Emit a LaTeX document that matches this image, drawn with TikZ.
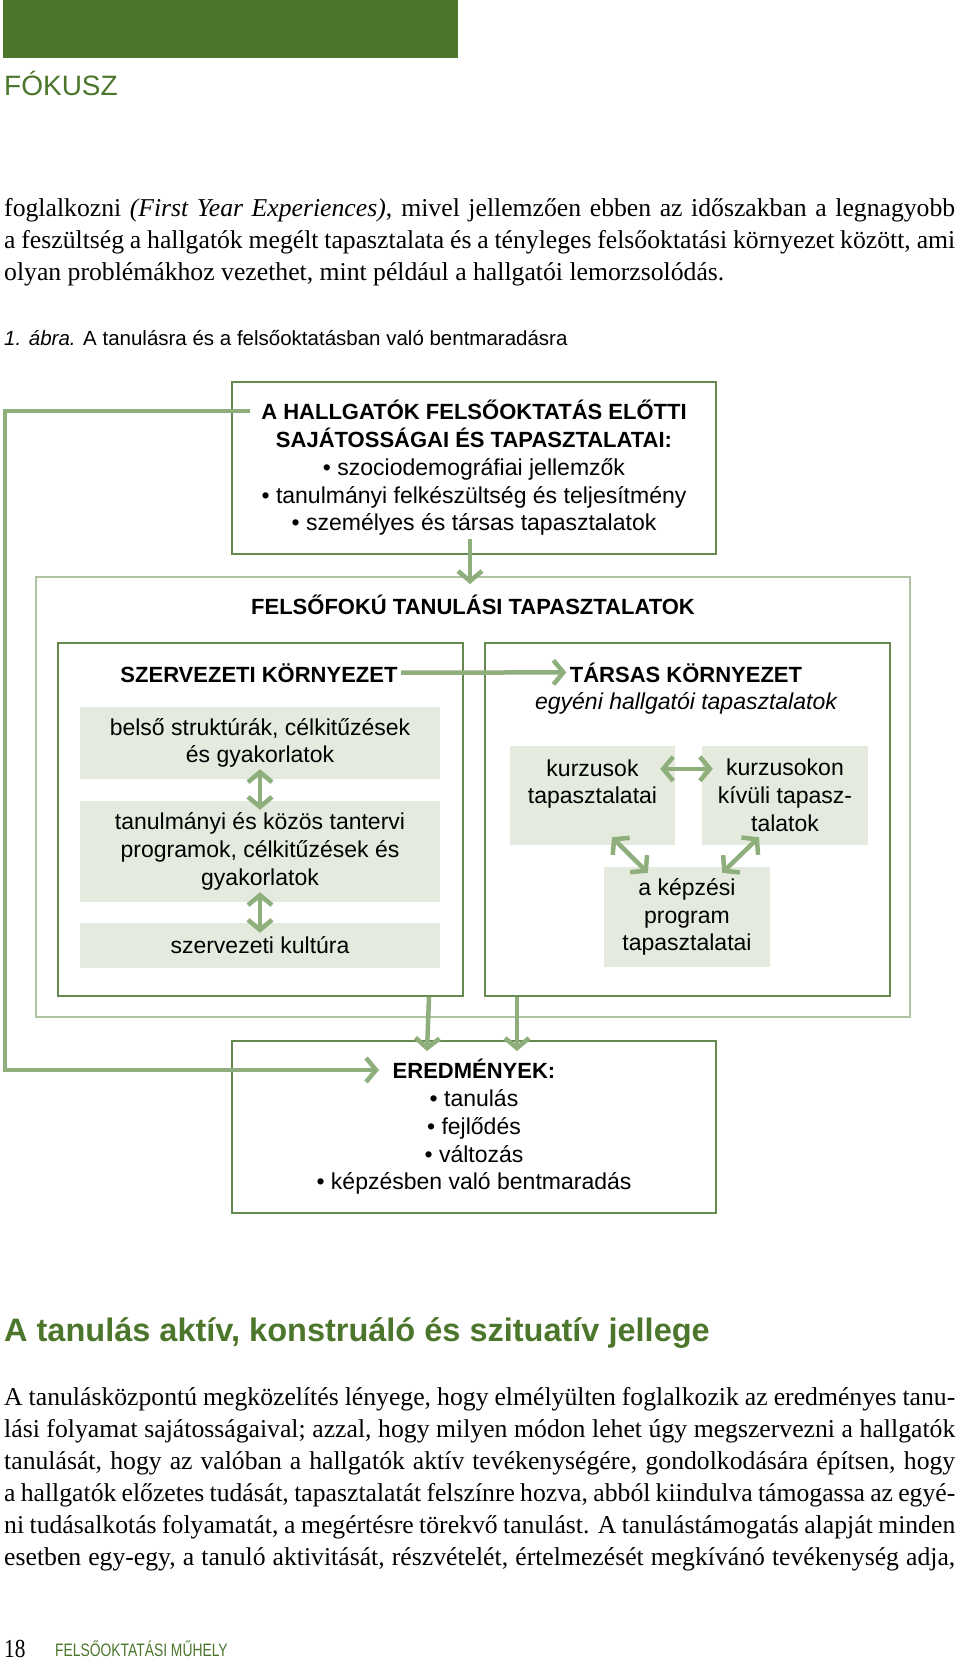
\documentclass[tikz,border=0pt]{standalone}
\usepackage{fontspec}
\setmainfont{Liberation Serif}
\setsansfont{Liberation Sans}
\usetikzlibrary{arrows.meta,calc}
\definecolor{darkgreen}{HTML}{4B762B}
\definecolor{framegreen}{HTML}{66894F}
\definecolor{palegreen}{HTML}{AFC3A2}
\definecolor{arrowgreen}{HTML}{8EAE7C}
\definecolor{boxfill}{HTML}{E4EBDE}
\tikzset{
diagtext/.style={font=\sffamily\fontsize{23}{27.8}\selectfont, align=center},
framebox/.style={draw=framegreen, line width=2pt, diagtext, inner sep=0pt},
bigframe/.style={draw=palegreen, line width=2pt, inner sep=0pt},
greybox/.style={fill=boxfill, diagtext, inner sep=0pt},
boxtitle/.style={font=\sffamily\bfseries\fontsize{22}{27.8}\selectfont},
flow/.style={draw=arrowgreen, line width=4.5pt, -{Straight Barb[length=10pt,width=24pt]}},
twoway/.style={flow, {Straight Barb[length=10pt,width=24pt]}-{Straight Barb[length=10pt,width=24pt]}},
bodytext/.style={font=\fontsize{25.7}{32}\selectfont, align=left, inner sep=0pt}
}
\newcommand{\fullline}[1]{\hbox to 951pt{#1}}
\newcommand{\capline}[1]{{\bfseries\fontsize{22}{27.8}\selectfont #1}}

\begin{document}
\begin{tikzpicture}[x=1pt, y=-1pt]
\useasboundingbox (0,0) rectangle (960,1665);
\fill[white] (0,0) rectangle (960,1665);
\fill[darkgreen] (3,0) rectangle (458,58);
\node[anchor=base west, inner sep=0pt, text=darkgreen, font=\sffamily\fontsize{28}{32}\selectfont] (fokusz) at (4,95) {FÓKUSZ};

\node[bodytext, anchor=base west] (elso) at (4,280) {\fullline{foglalkozni \textit{(First Year Experiences)}, mivel jellemzően ebben az időszakban a legnagyobb}\\
\fullline{a feszültség a hallgatók megélt tapasztalata és a tényleges felsőoktatási környezet között, ami}\\
olyan problémákhoz vezethet, mint például a hallgatói lemorzsolódás.};
\node[anchor=base west, inner sep=0pt, font=\sffamily\fontsize{20.5}{24}\selectfont] (abra) at (4,345) {\textit{1. ábra.} A tanulásra és a felsőoktatásban való bentmaradásra};

\node[framebox, minimum width=484pt, minimum height=172pt] (elozm) at (474,468) {\capline{A HALLGATÓK FELSŐOKTATÁS ELŐTTI}\\ \capline{SAJÁTOSSÁGAI ÉS TAPASZTALATAI:}\\ • szociodemográfiai jellemzők\\ • tanulmányi felkészültség és teljesítmény\\ • személyes és társas tapasztalatok};

\node[bigframe, minimum width=874pt, minimum height=440pt] (felso) at (473,797) {};
\node[boxtitle, anchor=base] (felsocim) at (473,614) {FELSŐFOKÚ TANULÁSI TAPASZTALATOK};
\node[framebox, minimum width=405pt, minimum height=353pt] (szerv) at (260.5,819.5) {};
\node[framebox, minimum width=405pt, minimum height=353pt] (tars) at (687.5,819.5) {};
\node[boxtitle, anchor=base] (szervcim) at (259,682) {SZERVEZETI KÖRNYEZET};
\node[boxtitle, anchor=base] (tarscim) at (686,682) {TÁRSAS KÖRNYEZET};
\node[diagtext, anchor=base, font=\sffamily\itshape\fontsize{23}{27.8}\selectfont] (egyeni) at (686,709) {egyéni hallgatói tapasztalatok};

\node[greybox, minimum width=360pt, minimum height=72pt] (belso) at (260,743) {belső struktúrák, célkitűzések\\ és gyakorlatok};
\node[greybox, minimum width=360pt, minimum height=101pt] (tanterv) at (260,851.5) {tanulmányi és közös tantervi\\ programok, célkitűzések és\\ gyakorlatok};
\node[greybox, minimum width=360pt, minimum height=45pt] (kultura) at (260,945.5) {szervezeti kultúra};

\node[greybox, minimum width=165pt, minimum height=99pt] (kurzus) at (592.5,795.5) {kurzusok\\ tapasztalatai\\ \mbox{}};
\node[greybox, minimum width=166pt, minimum height=99pt] (kivul) at (785,795.5) {kurzusokon\\ kívüli tapasz-\\ talatok};
\node[greybox, minimum width=166pt, minimum height=100pt] (kepzes) at (687,917) {a képzési\\ program\\ tapasztalatai};

\node[framebox, minimum width=484pt, minimum height=172pt] (eredm) at (474,1127) {\capline{EREDMÉNYEK:}\\ • tanulás\\ • fejlődés\\ • változás\\ • képzésben való bentmaradás};

\draw[flow] ($(elozm.south west)+(239,-16)$) -- ($(felso.north west)+(435,8)$);
\draw[flow] (szervcim.east) -- (tarscim.west);
\draw[twoway, shorten <=-10pt, shorten >=-9pt] (belso.south) -- (tanterv.north);
\draw[twoway, shorten <=-10pt, shorten >=-10pt] (tanterv.south) -- (kultura.north);
\draw[twoway] ($(kurzus.north east)+(-15,23)$) -- ($(kivul.north west)+(11,23)$);
\draw[twoway] ($(kurzus.south)+(19.5,-8)$) -- ($(kepzes.north west)+(44,6)$);
\draw[twoway] ($(kivul.south)+(-26,-8)$) -- ($(kepzes.north east)+(-48,6)$);
\draw[flow] ($(szerv.south east)+(-35,0)$) -- ($(eredm.north west)+(196,11)$);
\draw[flow] ($(tars.south west)+(33,0)$) -- ($(eredm.north west)+(286,11)$);
\draw[flow] ($(elozm.north west)+(19,30)$) -- ++(-245,0) |- ($(eredm.north west)+(148,30)$);

\node[anchor=base west, inner sep=0pt, text=darkgreen, font=\sffamily\bfseries\fontsize{32.5}{36}\selectfont] (alcim) at (4,1341) {A tanulás aktív, konstruáló és szituatív jellege};
\node[bodytext, anchor=base west] (masodik) at (4,1565) {\fullline{A tanulásközpontú megközelítés lényege, hogy elmélyülten foglalkozik az eredményes tanu-}\\
\fullline{lási folyamat sajátosságaival; azzal, hogy milyen módon lehet úgy megszervezni a hallgatók}\\
\fullline{tanulását, hogy az valóban a hallgatók aktív tevékenységére, gondolkodására építsen, hogy}\\
\fullline{a hallgatók előzetes tudását, tapasztalatát felszínre hozva, abból kiindulva támogassa az egyé-}\\
\fullline{ni tudásalkotás folyamatát, a megértésre törekvő tanulást. A tanulástámogatás alapját minden}\\
\fullline{esetben egy-egy, a tanuló aktivitását, részvételét, értelmezését megkívánó tevékenység adja,}};

\node[anchor=base west, inner sep=0pt, font=\fontsize{26}{28}\selectfont] (oldalszam) at (4,1657) {\scalebox{0.82}[1]{18}};
\node[anchor=base west, inner sep=0pt, text=darkgreen, font=\sffamily\fontsize{18}{20}\selectfont] (folyoirat) at (55,1656) {\scalebox{0.77}[1]{FELSŐOKTATÁSI MŰHELY}};
\end{tikzpicture}
\end{document}
